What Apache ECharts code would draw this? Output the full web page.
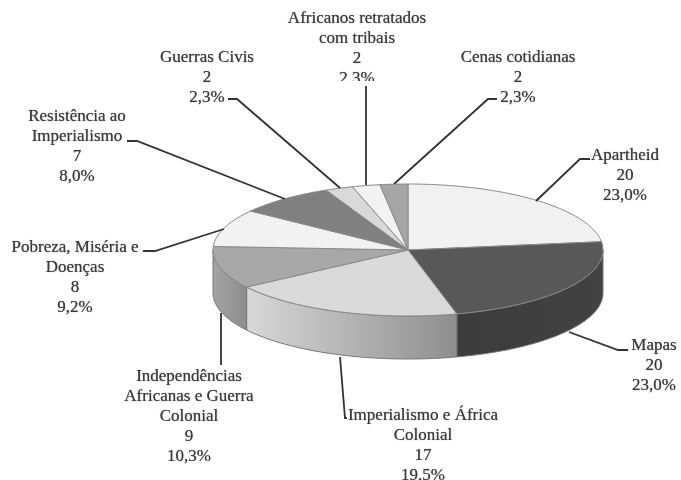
<!DOCTYPE html>
<html>
<head>
<meta charset="utf-8">
<style>html,body{margin:0;padding:0;background:#fff}#chart{width:681px;height:480px}</style>
<script src="https://cdn.jsdelivr.net/npm/echarts@6/dist/echarts.min.js"></script>
</head>
<body>
<div id="chart"></div>
<script>
// dados, em sentido horario a partir das 12h
var categories = ['Apartheid', 'Mapas', 'Imperialismo e África\nColonial', 'Independências\nAfricanas e Guerra\nColonial', 'Pobreza, Miséria e\nDoenças', 'Resistência ao\nImperialismo', 'Guerras Civis', 'Africanos retratados\ncom tribais', 'Cenas cotidianas'];
var counts = [20, 20, 17, 9, 8, 7, 2, 2, 2];
var percents = ['23,0%', '23,0%', '19,5%', '10,3%', '9,2%', '8,0%', '2,3%', '2,3%', '2,3%'];

// cores
var topColors = ['#f1f1f1', '#585858', '#d9dadc', '#a8a8a8', '#f2f2f2', '#808080', '#d9d9d9', '#f2f2f2', '#a6a6a6'];
var sideColors = [
    null,
    ['#424242', '#3c3c3c'],
    ['#8e8e90', '#d8d8d8'],
    ['#8c8c8c', '#a4a4a4'],
    null, null, null, null, null
];

// posicao dos rotulos [x, y da primeira linha]
var labelPos = [[625, 155], [654, 345], [423, 415], [189, 376], [75, 247], [77, 116], [207, 57], [357, 18], [518, 57]];
var leaders = [
    [[590, 159], [580, 159], [536, 201]],
    [[628, 350], [618, 350], [569, 332]],
    [[347, 418], [345, 418], [340, 357]],
    [[221, 365], [221, 313]],
    [[143, 251], [155, 251], [224, 229]],
    [[127, 141], [137, 141], [285, 199]],
    [[228, 99], [237, 99], [340, 188]],
    [[366, 86], [366, 185]],
    [[497, 99], [488, 99], [394, 184]]
];

var cx = 408, cy = 250, rx = 195, ry = 66, depth = 43;
var total = counts.reduce(function(a, b){ return a + b; }, 0);

function pt(deg, dy){
    var t = deg * Math.PI / 180;
    return [cx + rx * Math.sin(t), cy - ry * Math.cos(t) + (dy || 0)];
}

var sliceData = [];
var acc = 0;
counts.forEach(function(v, i){
    sliceData.push({value: [i, acc, acc + v]});
    acc += v;
});

function renderSide(params, api){
    var i = api.value(0);
    var a0 = Math.max(api.value(1) / total * 360, 90);
    var a1 = Math.min(api.value(2) / total * 360, 270);
    if(a1 <= a0 || !sideColors[i]) return {type: 'group', children: []};
    var pts = [], d;
    for(d = a0; d < a1; d++) pts.push(pt(d));
    pts.push(pt(a1));
    for(d = a1; d > a0; d--) pts.push(pt(d, depth));
    pts.push(pt(a0, depth));
    return {
        type: 'polygon',
        shape: {points: pts},
        style: {
            fill: new echarts.graphic.LinearGradient(0, 0, 1, 0, [
                {offset: 0, color: sideColors[i][1]},
                {offset: 1, color: sideColors[i][0]}
            ]),
            stroke: '#777',
            lineWidth: 1
        }
    };
}

function renderTop(params, api){
    var i = api.value(0);
    var a0 = api.value(1) / total * 360;
    var a1 = api.value(2) / total * 360;
    var pts = [[cx, cy]], d;
    for(d = a0; d < a1; d++) pts.push(pt(d));
    pts.push(pt(a1));
    return {
        type: 'polygon',
        shape: {points: pts},
        style: {fill: topColors[i], stroke: '#8a8a8a', lineWidth: 1}
    };
}

function renderLabel(params, api){
    var i = api.value(0);
    return {
        type: 'group',
        children: [
            {
                type: 'polyline',
                shape: {points: leaders[i]},
                style: {fill: null, stroke: '#333', lineWidth: 1.8}
            },
            {
                type: 'text',
                style: {
                    x: labelPos[i][0],
                    y: labelPos[i][1] - 9,
                    text: categories[i] + '\n' + counts[i] + '\n' + percents[i],
                    font: '17px "Liberation Serif"',
                    lineHeight: 20,
                    fill: '#3a3a3a',
                    align: 'center',
                    verticalAlign: 'top',
                    textShadowColor: '#666',
                    textShadowBlur: 1
                }
            }
        ]
    };
}

var myChart = echarts.init(document.getElementById('chart'), null, {renderer: 'canvas'});
var option = {
    animation: false,
    backgroundColor: '#fff',
    tooltip: {show: false},
    // o "2,3%" de Africanos esta cortado no original
    graphic: [{
        type: 'rect',
        z: 100,
        shape: {x: 340, y: 81, width: 50, height: 5},
        style: {fill: '#fff'}
    }],
    series: [
        {type: 'custom', coordinateSystem: 'none', renderItem: renderSide, data: sliceData, silent: true, z: 1},
        {type: 'custom', coordinateSystem: 'none', renderItem: renderTop, data: sliceData, silent: true, z: 2},
        {type: 'custom', coordinateSystem: 'none', renderItem: renderLabel, data: sliceData, silent: true, z: 3, clip: false}
    ]
};
myChart.setOption(option);
</script>
</body>
</html>
